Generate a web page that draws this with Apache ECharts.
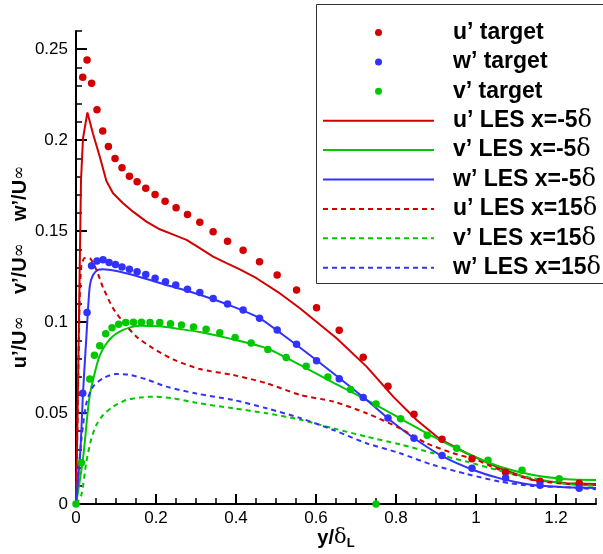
<!DOCTYPE html>
<html>
<head>
<meta charset="utf-8">
<script src="https://cdn.jsdelivr.net/npm/echarts@6/dist/echarts.min.js"></script>
<style>
html,body{margin:0;padding:0;background:#fff;}
#c{width:603px;height:554px;}
</style>
</head>
<body>
<div id="c"></div>
<script>
// ---- data (x = y/delta_L, y = rms / U_inf) ----
const uTarget = [[0.0168,0.2346],[0.0276,0.244],[0.039,0.2313],[0.0525,0.2167],[0.0668,0.2051],[0.081,0.1965],[0.0976,0.1899],[0.115,0.1848],[0.1335,0.1802],[0.1527,0.1771],[0.1744,0.1736],[0.1977,0.1701],[0.2227,0.1664],[0.2502,0.1629],[0.2787,0.1591],[0.3095,0.1549],[0.3428,0.1496],[0.3788,0.1444],[0.4178,0.1395],[0.4588,0.1332],[0.5029,0.1259],[0.5514,0.1177],[0.6014,0.1079],[0.658,0.0955],[0.718,0.0807],[0.780,0.0647],[0.845,0.0493],[0.915,0.0356],[0.990,0.0249],[1.074,0.0174],[1.160,0.0125],[1.258,0.0114]];
const wTarget = [[0.0168,0.0609],[0.0276,0.1052],[0.039,0.131],[0.0525,0.1336],[0.0676,0.1342],[0.0826,0.1327],[0.0986,0.1316],[0.115,0.1303],[0.1336,0.129],[0.1527,0.1277],[0.1744,0.1261],[0.1977,0.1241],[0.2237,0.1222],[0.2494,0.1204],[0.2787,0.118],[0.3095,0.1162],[0.343,0.1129],[0.3788,0.11],[0.4178,0.1067],[0.4588,0.1021],[0.503,0.0957],[0.5514,0.0878],[0.6014,0.0788],[0.658,0.0689],[0.718,0.0585],[0.78,0.0473],[0.845,0.0361],[0.915,0.0266],[0.990,0.0196],[1.074,0.0143],[1.16,0.0103],[1.258,0.0086]];
const vTarget = [[0,0],[0.0134,0.0227],[0.0343,0.0687],[0.046,0.0818],[0.0593,0.087],[0.0743,0.0936],[0.0901,0.0969],[0.1068,0.0988],[0.1243,0.0997],[0.1436,0.0999],[0.1636,0.0999],[0.1851,0.0997],[0.2094,0.0997],[0.2362,0.0991],[0.2637,0.0984],[0.2937,0.0973],[0.3252,0.096],[0.3595,0.0942],[0.3978,0.0915],[0.4378,0.0885],[0.4796,0.0849],[0.5254,0.0805],[0.5754,0.0757],[0.6297,0.0698],[0.6865,0.0629],[0.75,0.055],[0.8116,0.0469],[0.878,0.0378],[0.9517,0.0306],[1.030,0.024],[1.115,0.0185],[1.208,0.0139],[0.75,0]];

const uLesM5 = [[0,0],[0.004,0.05],[0.008,0.11],[0.0125,0.178],[0.0175,0.201],[0.0285,0.2152],[0.0425,0.2035],[0.0593,0.191],[0.076,0.1775],[0.0926,0.1708],[0.1176,0.1653],[0.1426,0.1607],[0.176,0.1552],[0.2094,0.151],[0.2512,0.1474],[0.2762,0.1452],[0.3095,0.1406],[0.3428,0.136],[0.3763,0.1324],[0.4096,0.129],[0.4513,0.1241],[0.505,0.1165],[0.5597,0.1076],[0.6515,0.0911],[0.7265,0.0755],[0.793,0.059],[0.8516,0.0462],[0.91,0.0356],[0.9767,0.0279],[1.06,0.0196],[1.143,0.0132],[1.227,0.0114],[1.3,0.011]];
const vLesM5 = [[0,0],[0.0175,0.025],[0.0325,0.057],[0.0425,0.068],[0.0593,0.0815],[0.0843,0.0905],[0.1176,0.0957],[0.1594,0.098],[0.2094,0.0977],[0.2594,0.0962],[0.3095,0.0945],[0.3928,0.0905],[0.4763,0.0856],[0.5597,0.0765],[0.643,0.0667],[0.7265,0.0572],[0.81,0.0471],[0.8932,0.037],[0.9767,0.0279],[1.06,0.0205],[1.143,0.0159],[1.227,0.0136],[1.3,0.0132]];
const wLesM5 = [[0,0],[0.011,0.0297],[0.0175,0.0609],[0.026,0.092],[0.0343,0.1195],[0.0425,0.1259],[0.055,0.1287],[0.0676,0.129],[0.101,0.1281],[0.1426,0.1259],[0.2094,0.1215],[0.3095,0.115],[0.3928,0.1085],[0.4596,0.1021],[0.5179,0.0929],[0.5597,0.086],[0.643,0.0719],[0.7265,0.0572],[0.7848,0.0462],[0.8516,0.0352],[0.918,0.026],[0.9933,0.0187],[1.06,0.0141],[1.143,0.0104],[1.227,0.0092],[1.3,0.0088]];
const uLes15 = [[0,0],[0.005,0.06],[0.009,0.11],[0.0134,0.131],[0.022,0.1352],[0.034,0.1351],[0.051,0.1287],[0.0676,0.119],[0.0926,0.1076],[0.1176,0.1002],[0.151,0.092],[0.1926,0.0856],[0.2427,0.0795],[0.3095,0.0742],[0.3928,0.0709],[0.4763,0.0664],[0.5597,0.06],[0.643,0.0563],[0.7265,0.0499],[0.81,0.0416],[0.8766,0.0334],[0.9433,0.0279],[1.0017,0.0242],[1.06,0.0187],[1.143,0.0132],[1.227,0.011],[1.3,0.0104]];
const vLes15 = [[0,0],[0.0134,0.005],[0.026,0.0233],[0.0385,0.0361],[0.051,0.0434],[0.0676,0.0489],[0.0926,0.0535],[0.126,0.0572],[0.1594,0.0585],[0.1926,0.059],[0.2427,0.0581],[0.3012,0.0556],[0.3928,0.0526],[0.4763,0.0499],[0.5597,0.0464],[0.643,0.0416],[0.7265,0.037],[0.81,0.0328],[0.8932,0.0279],[0.9767,0.0233],[1.06,0.0183],[1.143,0.0141],[1.227,0.011],[1.3,0.0099]];
const wLes15 = [[0,0],[0.0134,0.0352],[0.026,0.0554],[0.0425,0.0645],[0.0676,0.0691],[0.101,0.0715],[0.1343,0.071],[0.176,0.0685],[0.226,0.0645],[0.3012,0.0607],[0.3928,0.0572],[0.4763,0.0526],[0.5597,0.0473],[0.643,0.0407],[0.7265,0.0334],[0.81,0.0279],[0.8932,0.0214],[0.9767,0.0165],[1.06,0.0123],[1.143,0.0099],[1.227,0.0092],[1.3,0.0081]];

const xTicks = [0,0.2,0.4,0.6,0.8,1,1.2];
const yTicks = [0,0.05,0.1,0.15,0.2,0.25];
const targetNames = ['u’ target','w’ target','v’ target'];
const lesNames = ['u’ LES x=-5δ','v’ LES x=-5δ','w’ LES x=-5δ','u’ LES x=15δ','v’ LES x=15δ','w’ LES x=15δ'];

const RED = '#d20000', GREEN = '#00c800', BLUE = '#3232ff';
const FONT = 'Liberation Sans, Arial, Helvetica, sans-serif';
const SERIF = 'DejaVu Serif, Liberation Serif, serif';

function lineSeries(name, data, color, dashed, smooth) {
  return {
    name, type: 'line', data, xAxisIndex: 0, yAxisIndex: 0,
    symbol: 'none', showSymbol: false, smooth: smooth,
    lineStyle: { color, width: 2, type: dashed ? [5, 4] : 'solid' },
    itemStyle: { color }, z: 2
  };
}
function dotSeries(name, data, color) {
  return {
    name, type: 'scatter', data, xAxisIndex: 0, yAxisIndex: 0,
    symbol: 'circle', symbolSize: 7.5, itemStyle: { color, opacity: 1 }, z: 3
  };
}

const legendData = targetNames.map(n => ({ name: n }))
  .concat(lesNames.map(n => ({ name: n, itemStyle: { opacity: 0 } })));

const chart = echarts.init(document.getElementById('c'), null, { renderer: 'canvas' });
chart.setOption({
  animation: false,
  backgroundColor: '#fff',
  grid: { left: 76, right: 7, top: 31, bottom: 50, containLabel: false },
  xAxis: [
    {
      type: 'value', min: 0, max: 1.3, interval: 0.2, position: 'bottom',
      axisLine: { show: true, onZero: false, lineStyle: { color: '#000', width: 2 } },
      axisTick: { show: true, inside: true, length: 10, customValues: xTicks, lineStyle: { color: '#000', width: 2 } },
      axisLabel: { show: true, customValues: xTicks, margin: 6, fontSize: 17, color: '#000', fontFamily: FONT,
        formatter: v => (v > 1.25 ? '' : String(+v.toFixed(2))) },
      splitLine: { show: false }
    },
    {
      type: 'value', min: 0, max: 1.3, interval: 0.05, position: 'bottom',
      axisLine: { show: false, onZero: false },
      axisTick: { show: true, inside: true, length: 6, lineStyle: { color: '#000', width: 1.5 } },
      axisLabel: { show: false }, splitLine: { show: false }
    }
  ],
  yAxis: [
    {
      type: 'value', min: 0, max: 0.26, interval: 0.05, position: 'left',
      axisLine: { show: true, onZero: false, lineStyle: { color: '#000', width: 2 } },
      axisTick: { show: true, inside: true, length: 11, customValues: yTicks, lineStyle: { color: '#000', width: 2 } },
      axisLabel: { show: true, customValues: yTicks, margin: 8, fontSize: 17, color: '#000', fontFamily: FONT,
        formatter: v => (v > 0.255 ? '' : String(+v.toFixed(2))) },
      splitLine: { show: false }
    },
    {
      type: 'value', min: 0, max: 0.26, interval: 0.01, position: 'left',
      axisLine: { show: false, onZero: false },
      axisTick: { show: true, inside: true, length: 6, lineStyle: { color: '#000', width: 1.5 } },
      axisLabel: { show: false }, splitLine: { show: false }
    }
  ],
  legend: {
    orient: 'vertical', left: 316, top: 4, z: 10,
    padding: [16, 0, 5, 6],
    itemWidth: 111, itemHeight: 7, itemGap: 4.4,
    backgroundColor: 'transparent', borderWidth: 0,
    selectedMode: false,
    data: legendData,
    formatter: function (name) {
      if (name.indexOf('δ') >= 0) {
        return '{g| }{t|' + name.replace('δ', '') + '}{d|δ}';
      }
      return '{g| }{t|' + name + '}';
    },
    textStyle: {
      fontSize: 23, fontWeight: 'bold', color: '#000', fontFamily: FONT, lineHeight: 25,
      rich: {
        g: { width: 14, fontSize: 23, lineHeight: 25 },
        t: { fontSize: 23, fontWeight: 'bold', color: '#000', fontFamily: FONT, lineHeight: 25 },
        d: { fontSize: 24, fontWeight: 'normal', color: '#000', fontFamily: SERIF, lineHeight: 25 }
      }
    }
  },
  graphic: [
    {
      type: 'rect', z: 8, silent: true,
      shape: { x: 316.5, y: 4.5, width: 320, height: 279 },
      style: { fill: '#fff', stroke: '#333', lineWidth: 1 }
    },
    {
      type: 'text', x: 20, y: 267, rotation: Math.PI / 2, silent: true,
      style: {
        text: '{b|u’/U}{s|∞}    {b|v’/U}{s|∞}    {b|w’/U}{s|∞}',
        align: 'center', verticalAlign: 'middle',
        font: 'bold 20px ' + FONT, fill: '#000',
        rich: {
          b: { fontSize: 20, fontWeight: 'bold', fontFamily: FONT, fill: '#000', lineHeight: 24 },
          s: { fontSize: 17, fontWeight: 'normal', fontFamily: SERIF, fill: '#000', lineHeight: 24 }
        }
      }
    },
    {
      type: 'text', x: 336, y: 538, silent: true,
      style: {
        text: '{b|y/}{d|δ}{l|L}',
        align: 'center', verticalAlign: 'middle',
        font: 'bold 20px ' + FONT, fill: '#000',
        rich: {
          b: { fontSize: 20, fontWeight: 'bold', fontFamily: FONT, fill: '#000', lineHeight: 24 },
          d: { fontSize: 21, fontWeight: 'normal', fontFamily: SERIF, fill: '#000', lineHeight: 24 },
          l: { fontSize: 13, fontWeight: 'bold', fontFamily: FONT, fill: '#000', lineHeight: 24, verticalAlign: 'bottom', padding: [10, 0, 0, 0] }
        }
      }
    }
  ],
  series: [
    lineSeries('u’ LES x=-5δ', uLesM5, RED, false, false),
    lineSeries('v’ LES x=-5δ', vLesM5, GREEN, false, 0.25),
    lineSeries('w’ LES x=-5δ', wLesM5, BLUE, false, 0.25),
    lineSeries('u’ LES x=15δ', uLes15, RED, true, 0.25),
    lineSeries('v’ LES x=15δ', vLes15, GREEN, true, 0.25),
    lineSeries('w’ LES x=15δ', wLes15, BLUE, true, 0.25),
    dotSeries('u’ target', uTarget, RED),
    dotSeries('w’ target', wTarget, BLUE),
    dotSeries('v’ target', vTarget, GREEN)
  ]
});
</script>
</body>
</html>
